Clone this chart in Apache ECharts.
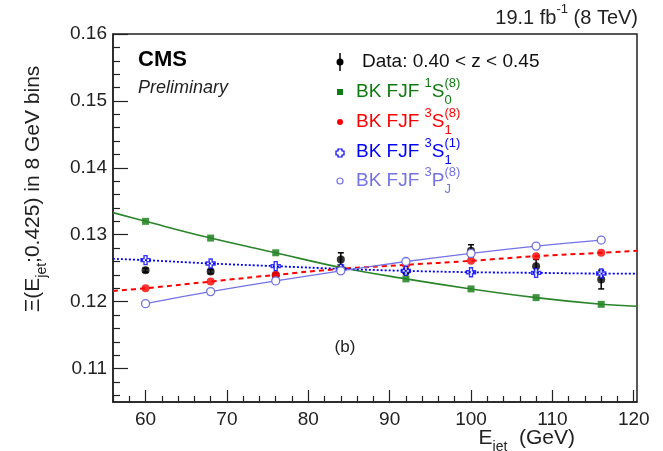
<!DOCTYPE html>
<html>
<head>
<meta charset="utf-8">
<script src="https://cdn.jsdelivr.net/npm/echarts@6/dist/echarts.min.js"></script>
<style>
html, body { margin: 0; padding: 0; background: #fff; }
#main { width: 663px; height: 451px; }
</style>
</head>
<body>
<div id="main"></div>
<script>
// bin centres (8 GeV bins)
const ejet = [60, 68, 76, 84, 92, 100, 108, 116];
const dataVals = [0.1247, 0.1245, 0.1239, 0.1263, 0.1245, 0.1276, 0.1253, 0.1233];
const dataErrs = [0.0003, 0.0003, 0.0003, 0.0010, 0.0003, 0.0009, 0.0010, 0.0014];
const s1_8 = [0.1320, 0.1295, 0.1273, 0.1251, 0.1234, 0.1219, 0.1206, 0.1196];
const s3_8 = [0.1220, 0.1230, 0.1240, 0.1249, 0.1255, 0.1261, 0.1268, 0.1273];
const s3_1 = [0.1262, 0.1257, 0.1253, 0.1249, 0.1246, 0.1244, 0.1243, 0.1242];
const p3_8 = [0.1197, 0.1215, 0.1231, 0.1246, 0.1260, 0.1272, 0.1283, 0.1292];
// the fit curves run on to the frame
const edgeX = [56, 120.4];
const s1_8Edge = [0.1333, 0.1193];
const s3_8Edge = [0.1216, 0.1276];
const s3_1Edge = [0.1264, 0.1242];
// tick labels
const xMajor = [60, 70, 80, 90, 100, 110, 120];
const yMajor = [0.11, 0.12, 0.13, 0.14, 0.15, 0.16];

const xMinor = [];
for (let i = 28; i <= 60; i++) {
	if (i % 5 !== 0) xMinor.push(i * 2);
}
const yMinor = [];
for (let i = 53; i <= 80; i++) {
	if (i % 5 !== 0) yMinor.push(Number((i * 0.002).toFixed(3)));
}

const FONT = '"Liberation Sans", Arial, sans-serif';
const cGreen = '#0f7a0f';
const cRed = '#ff0000';
const cBlue = '#0000ff';
const cPurple = '#7373e6';

const cv = document.createElement('canvas').getContext('2d');
function tw(txt, size) {
	cv.font = size + 'px ' + FONT;
	return cv.measureText(txt).width;
}

function pairs(xs, ys) {
	return xs.map((x, i) => [x, ys[i]]);
}
function withEdges(ys, edge) {
	return [[edgeX[0], edge[0]]].concat(pairs(ejet, ys), [[edgeX[1], edge[1]]]);
}

const crossPath = 'path://M3,0L6,0L6,3L9,3L9,6L6,6L6,9L3,9L3,6L0,6L0,3L3,3Z';

const rich = {
	b: { fontSize: 19, lineHeight: 30, verticalAlign: 'middle', fontFamily: FONT },
	sup: { fontSize: 13, lineHeight: 20, verticalAlign: 'top', fontFamily: FONT },
	sub: { fontSize: 13, lineHeight: 20, verticalAlign: 'bottom', fontFamily: FONT }
};
const richBig = {
	b: { fontSize: 21, lineHeight: 32, verticalAlign: 'middle', fontFamily: FONT },
	sup: { fontSize: 14, lineHeight: 21, verticalAlign: 'top', fontFamily: FONT },
	sub: { fontSize: 14, lineHeight: 21, verticalAlign: 'bottom', fontFamily: FONT }
};

// legend rows
const legX = 356;
function legendRow(y, color, sup1, base, sup2, sub) {
	const els = [{
		type: 'text', x: legX, y: y,
		style: {
			text: '{b|BK FJF }{sup|' + sup1 + '}{b|' + base + '}{sup|' + sup2 + '}',
			rich: rich, fill: color, textVerticalAlign: 'middle'
		}
	}];
	const subX = legX + tw('BK FJF ', 19) + tw(sup1, 13) + tw(base, 19);
	els.push({
		type: 'text', x: subX, y: y + 8,
		style: { text: sub, font: '13px ' + FONT, fill: color, textVerticalAlign: 'middle' }
	});
	return els;
}

const graphics = [
	{ type: 'text', x: 138, y: 60, style: { text: 'CMS', font: 'bold 22px ' + FONT, fill: '#000', textVerticalAlign: 'middle' } },
	{ type: 'text', x: 138, y: 88, style: { text: 'Preliminary', font: 'italic 18px ' + FONT, fill: '#222', textVerticalAlign: 'middle' } },
	{ type: 'text', x: 638, y: 18, style: { text: '{b|19.1 fb}{sup|-1}{b| (8 TeV)}', rich: { b: { fontSize: 20, lineHeight: 30, verticalAlign: 'middle', fontFamily: FONT }, sup: rich.sup }, fill: '#222', textAlign: 'right', textVerticalAlign: 'middle' } },
	{ type: 'text', x: 345, y: 347, style: { text: '(b)', font: '17px ' + FONT, fill: '#222', textAlign: 'center', textVerticalAlign: 'middle' } },
	{ type: 'text', x: 575, y: 438, style: { text: '{b|E}{sub|jet}{b|  (GeV)}', rich: richBig, fill: '#222', textAlign: 'right', textVerticalAlign: 'middle' } },
	{ type: 'text', x: 33, y: 189, rotation: Math.PI / 2, style: { text: '{b|Ξ(E}{sub|jet}{b|;0.425) in 8 GeV bins}', rich: richBig, fill: '#222', textAlign: 'center', textVerticalAlign: 'middle' } },
	// legend markers
	{ type: 'line', shape: { x1: 340, y1: 53, x2: 340, y2: 71 }, style: { stroke: '#000', lineWidth: 1.5 } },
	{ type: 'circle', shape: { cx: 340, cy: 62, r: 3.5 }, style: { fill: '#000' } },
	{ type: 'text', x: legX + 6, y: 62, style: { text: 'Data: 0.40 < z < 0.45', font: '19px ' + FONT, fill: '#111', textVerticalAlign: 'middle' } },
	{ type: 'rect', shape: { x: 337, y: 89, width: 6, height: 6 }, style: { fill: cGreen } },
	{ type: 'circle', shape: { cx: 340, cy: 122, r: 3 }, style: { fill: cRed } },
	{ type: 'polygon', shape: { points: [[338, 149], [342, 149], [342, 151], [344, 151], [344, 155], [342, 155], [342, 157], [338, 157], [338, 155], [336, 155], [336, 151], [338, 151]] }, style: { fill: '#fff', stroke: cBlue, lineWidth: 1.2 } },
	{ type: 'circle', shape: { cx: 340, cy: 181, r: 3 }, style: { fill: '#fff', stroke: cPurple, lineWidth: 1.2 } }
].concat(
	legendRow(92, cGreen, '1', 'S', '(8)', '0'),
	legendRow(122, cRed, '3', 'S', '(8)', '1'),
	legendRow(152, cBlue, '3', 'S', '(1)', '1'),
	legendRow(181, cPurple, '3', 'P', '(8)', 'J')
);

const labelStyle = { fontSize: 19, color: '#222', fontFamily: FONT };

var myChart = echarts.init(document.getElementById('main'));
var option = {
	animation: false,
	grid: { left: 113, right: 26, top: 34, bottom: 49, show: true, borderColor: '#222', borderWidth: 1.5 },
	xAxis: [
		{
			type: 'value', min: edgeX[0], max: edgeX[1],
			splitLine: { show: false },
			axisLine: { lineStyle: { color: '#222', width: 1.5 } },
			axisTick: { inside: true, length: 12, customValues: xMajor, lineStyle: { color: '#222', width: 1.2 } },
			axisLabel: Object.assign({ customValues: xMajor, margin: 8, formatter: v => String(v) }, labelStyle)
		},
		{
			type: 'value', min: edgeX[0], max: edgeX[1], position: 'bottom',
			splitLine: { show: false },
			axisLine: { show: false },
			axisTick: { inside: true, length: 6, customValues: xMinor, lineStyle: { color: '#222', width: 1.2 } },
			axisLabel: { show: false }
		}
	],
	yAxis: [
		{
			type: 'value', min: 0.105, max: 0.16,
			splitLine: { show: false },
			axisLine: { show: true, lineStyle: { color: '#222', width: 1.5 } },
			axisTick: { show: true, inside: true, length: 15, customValues: yMajor, lineStyle: { color: '#222', width: 1.2 } },
			axisLabel: Object.assign({ customValues: yMajor, margin: 6, formatter: v => v.toFixed(2) }, labelStyle)
		},
		{
			type: 'value', min: 0.105, max: 0.16, position: 'left',
			splitLine: { show: false },
			axisLine: { show: false },
			axisTick: { show: true, inside: true, length: 7, customValues: yMinor, lineStyle: { color: '#222', width: 1.2 } },
			axisLabel: { show: false }
		}
	],
	graphic: graphics,
	series: [
		{
			type: 'custom',
			renderItem: function (params, api) {
				const x = api.value(0), y = api.value(1), e = api.value(2);
				const top = api.coord([x, y + e]);
				const bot = api.coord([x, y - e]);
				const st = { stroke: '#000', lineWidth: 1.5 };
				return {
					type: 'group', children: [
						{ type: 'line', shape: { x1: top[0], y1: top[1], x2: bot[0], y2: bot[1] }, style: st },
						{ type: 'line', shape: { x1: top[0] - 3, y1: top[1], x2: top[0] + 3, y2: top[1] }, style: st },
						{ type: 'line', shape: { x1: bot[0] - 3, y1: bot[1], x2: bot[0] + 3, y2: bot[1] }, style: st }
					]
				};
			},
			encode: { x: 0, y: 1 },
			data: ejet.map((x, i) => [x, dataVals[i], dataErrs[i]])
		},
		{
			type: 'scatter', symbol: 'circle', symbolSize: 8,
			itemStyle: { color: '#000' },
			data: pairs(ejet, dataVals)
		},
		{
			type: 'line', smooth: 0.4, symbol: 'none',
			lineStyle: { color: '#2a842a', width: 1.6 },
			data: withEdges(s1_8, s1_8Edge)
		},
		{
			type: 'scatter', symbol: 'rect', symbolSize: 7,
			itemStyle: { color: cGreen },
			data: pairs(ejet, s1_8)
		},
		{
			type: 'line', smooth: 0.4, symbol: 'none',
			lineStyle: { color: cRed, width: 2, type: [5, 4] },
			data: withEdges(s3_8, s3_8Edge)
		},
		{
			type: 'scatter', symbol: 'circle', symbolSize: 8,
			itemStyle: { color: cRed },
			data: pairs(ejet, s3_8)
		},
		{
			type: 'line', smooth: 0.4, symbol: 'none',
			lineStyle: { color: cBlue, width: 1.8, type: [2, 2] },
			data: withEdges(s3_1, s3_1Edge)
		},
		{
			type: 'scatter', symbol: crossPath, symbolSize: 9,
			itemStyle: { color: '#fff', borderColor: cBlue, borderWidth: 1.4 },
			data: pairs(ejet, s3_1)
		},
		{
			type: 'line', smooth: 0.3, symbol: 'circle', symbolSize: 8, showSymbol: true,
			lineStyle: { color: cPurple, width: 1.3 },
			itemStyle: { color: '#fff', borderColor: cPurple, borderWidth: 1.3 },
			data: pairs(ejet, p3_8)
		}
	]
};
myChart.setOption(option);
</script>
</body>
</html>
